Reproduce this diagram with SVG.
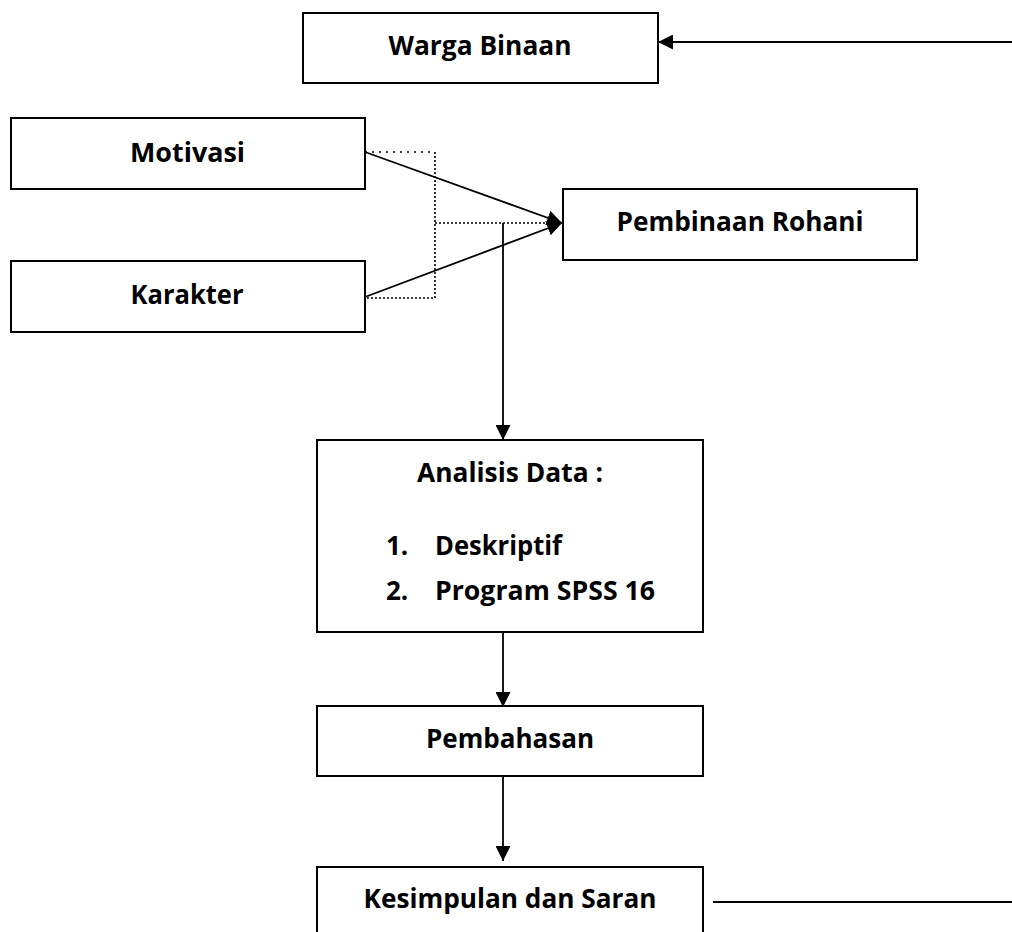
<svg xmlns="http://www.w3.org/2000/svg" width="1012" height="932" viewBox="0 0 1012 932">
<style>
.box{fill:#fff;stroke:#000;stroke-width:2}
.t{font-family:"Open Sans","Noto Sans","Liberation Sans",sans-serif;font-weight:bold;font-size:26px;fill:#000}
.c{fill:none;stroke:#000;stroke-width:1.8}
.d{fill:none;stroke:#000;stroke-width:1.6;stroke-dasharray:2 2}
.ds{fill:none;stroke:#000;stroke-width:1.6;stroke-dasharray:2 5}
</style>
<defs>
<marker id="ah" viewBox="0 0 15 15" refX="15" refY="7.5" markerWidth="15" markerHeight="15" markerUnits="userSpaceOnUse" orient="auto">
<path d="M0,0 L15,7.5 L0,15 z" fill="#000"/>
</marker>
</defs>
<rect width="1012" height="932" fill="#fff"/>
<g id="connectors">
<line class="c" x1="1012" y1="42" x2="658" y2="42" marker-end="url(#ah)"/>
<polyline class="ds" points="365,152 435,152"/>
<polyline class="d" points="435,152 435,298 365,298"/>
<line class="d" x1="435" y1="223" x2="550" y2="223"/>
<line class="c" x1="365" y1="152" x2="562" y2="223" marker-end="url(#ah)"/>
<line class="c" x1="365" y1="297" x2="562" y2="223" marker-end="url(#ah)"/>
<line class="c" x1="503" y1="223" x2="503" y2="440" marker-end="url(#ah)"/>
<line class="c" x1="503" y1="632" x2="503" y2="707" marker-end="url(#ah)"/>
<line class="c" x1="503" y1="774" x2="503" y2="861" marker-end="url(#ah)"/>
<line class="c" x1="713" y1="902" x2="1012" y2="902"/>
</g>
<g id="warga-binaan">
<rect class="box" x="303" y="13" width="355" height="70"/>
<text class="t" x="480" y="55" text-anchor="middle" textLength="183" lengthAdjust="spacingAndGlyphs">Warga Binaan</text>
</g>
<g id="motivasi">
<rect class="box" x="11" y="118" width="354" height="71"/>
<text class="t" x="187.5" y="162" text-anchor="middle" textLength="115" lengthAdjust="spacingAndGlyphs">Motivasi</text>
</g>
<g id="karakter">
<rect class="box" x="11" y="261" width="354" height="71"/>
<text class="t" x="187" y="304" text-anchor="middle" textLength="113" lengthAdjust="spacingAndGlyphs">Karakter</text>
</g>
<g id="pembinaan-rohani">
<rect class="box" x="563" y="189" width="354" height="71"/>
<text class="t" x="740" y="231" text-anchor="middle" textLength="247" lengthAdjust="spacingAndGlyphs">Pembinaan Rohani</text>
</g>
<g id="analisis-data">
<rect class="box" x="317" y="440" width="386" height="192"/>
<text class="t" x="510" y="482" text-anchor="middle" textLength="186" lengthAdjust="spacingAndGlyphs">Analisis Data :</text>
<text class="t" x="386" y="555">1.</text>
<text class="t" x="435" y="555" textLength="127" lengthAdjust="spacingAndGlyphs">Deskriptif</text>
<text class="t" x="386" y="600">2.</text>
<text class="t" x="435" y="600" textLength="220" lengthAdjust="spacingAndGlyphs">Program SPSS 16</text>
</g>
<g id="pembahasan">
<rect class="box" x="317" y="706" width="386" height="70"/>
<text class="t" x="510" y="748" text-anchor="middle" textLength="168" lengthAdjust="spacingAndGlyphs">Pembahasan</text>
</g>
<g id="kesimpulan">
<rect class="box" x="317" y="867" width="386" height="80"/>
<text class="t" x="510" y="908" text-anchor="middle" textLength="293" lengthAdjust="spacingAndGlyphs">Kesimpulan dan Saran</text>
</g>
</svg>
